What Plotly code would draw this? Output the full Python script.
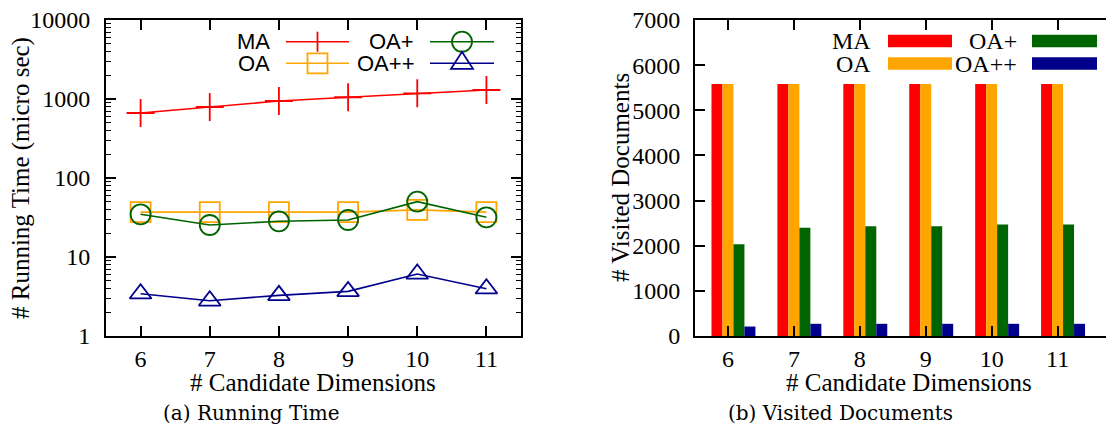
import plotly.graph_objects as go

# the page body has an 8px default margin; lay out in window pixels and compensate
OFF = 8
W, H = 1114 - OFF, 432 - OFF

# ---------------- data ----------------
dims = [6, 7, 8, 9, 10, 11]
tick_text_dims = ["6", "7", "8", "9", "10", "11"]

# (a) Running Time (micro sec), log scale
rt_ma = [665, 792, 944, 1052, 1180, 1300]
rt_oa = [37, 37, 37, 37, 39.5, 37]
rt_oap = [34.7, 25.4, 28.3, 29.4, 50.2, 31.8]
rt_oapp = [3.43, 2.79, 3.27, 3.67, 6.1, 3.97]
rt_tickvals = [1, 10, 100, 1000, 10000]
rt_ticktext = ["1", "10", "100", "1000", "10000"]

# (b) Visited Documents
vd_ma = [5580, 5580, 5580, 5580, 5580, 5580]
vd_oa = [5580, 5580, 5580, 5580, 5580, 5580]
vd_oap = [2030, 2400, 2430, 2430, 2470, 2470]
vd_oapp = [210, 270, 270, 270, 270, 270]
vd_tickvals = [0, 1000, 2000, 3000, 4000, 5000, 6000, 7000]

series_names = ["MA", "OA", "OA+", "OA++"]
colors = {"MA": "#ff0000", "OA": "#ffa500", "OA+": "#006400", "OA++": "#00008b"}


def px(x):
    return (x - OFF) / W


def py(y):
    return 1 - (y - OFF) / H


SERIF = "Liberation Serif"
SANS = "Liberation Sans"

fig = go.Figure()

# ---------------- left chart: lines ----------------
line_series = [
    ("MA", rt_ma, "cross-thin", 20),
    ("OA", rt_oa, "square-open", 20),
    ("OA+", rt_oap, "circle-open", 20),
    ("OA++", rt_oapp, "triangle-up-open", 19),
]
for name, vals, sym, size in line_series:
    c = colors[name]
    fig.add_trace(go.Scatter(
        x=dims, y=vals, mode="lines+markers", name=name,
        line=dict(color=c, width=1.6),
        marker=dict(symbol=sym, size=size, color=c, line=dict(color=c, width=1.8)),
        xaxis="x", yaxis="y", showlegend=False, cliponaxis=False,
    ))

# ---------------- right chart: bars ----------------
bar_series = [("MA", vd_ma, -0.25), ("OA", vd_oa, -1 / 12),
              ("OA+", vd_oap, 1 / 12), ("OA++", vd_oapp, 0.25)]
for name, vals, off in bar_series:
    fig.add_trace(go.Bar(
        x=dims, y=vals, name=name, offset=off, width=1 / 6,
        marker=dict(color=colors[name], line=dict(width=0)),
        xaxis="x2", yaxis="y2", showlegend=False,
    ))

ydom = [py(336), py(20)]
axis_common = dict(
    showline=True, linecolor="black", linewidth=2, showgrid=False, zeroline=False,
    ticks="inside", tickcolor="black", tickwidth=1.5, ticklen=10,
    tickfont=dict(family=SERIF, size=24, color="black"), automargin=False,
    ticklabeloverflow="allow",
)

fig.update_layout(
    width=W, height=H, margin=dict(l=0, r=0, t=0, b=0),
    paper_bgcolor="white", plot_bgcolor="white", barmode="overlay",
    showlegend=False,
    xaxis=dict(domain=[px(106), px(521)], range=[5.5, 11.5], anchor="y",
               tickvals=dims, ticktext=tick_text_dims, mirror="ticks",
               ticklabelstandoff=0, **axis_common),
    yaxis=dict(domain=ydom, type="log", range=[0, 4], anchor="x",
               tickvals=rt_tickvals, ticktext=rt_ticktext, mirror="ticks",
               ticklabelstandoff=9,
               minor=dict(ticks="inside", ticklen=5, tickwidth=1.3, tickcolor="black",
                          tickvals=[m * d for d in [1, 10, 100, 1000] for m in range(2, 10)],
                          showgrid=False),
               **axis_common),
    xaxis2=dict(domain=[px(695), 1.0], range=[5.5, 11.856], anchor="y2",
                tickvals=dims, ticktext=tick_text_dims, mirror="ticks",
                ticklabelstandoff=0, **axis_common),
    yaxis2=dict(domain=ydom, range=[0, 7000], anchor="x2",
                tickvals=vd_tickvals, mirror=False, ticklabelstandoff=8,
                **axis_common),
    yaxis3=dict(overlaying="y2", side="right", anchor="free", position=1.0,
                range=[0, 7000], tickvals=vd_tickvals, showticklabels=False,
                showline=False, showgrid=False, zeroline=False,
                ticks="inside", ticklen=3, tickcolor="black", tickwidth=1.5),
)

annotations = []
shapes = []


def text(x, y, s, size, family, xanchor="center", angle=0):
    annotations.append(dict(
        x=px(x), y=py(y), xref="paper", yref="paper", text=s, showarrow=False,
        xanchor=xanchor, yanchor="middle", textangle=angle,
        font=dict(family=family, size=size, color="black")))


# axis titles
text(21, 178, "# Running Time (micro sec)", 25, SERIF, angle=-90)
text(313, 382, "# Candidate Dimensions", 25, SERIF)
text(620, 178, "# Visited Documents", 25, SERIF, angle=-90)
text(909, 382, "# Candidate Dimensions", 25, SERIF)
# captions
text(251, 413, "(a) Running Time", 20, "DejaVu Serif")
text(840, 413, "(b) Visited Documents", 20, "DejaVu Serif")

# ---- left legend (text left, sample right) ----
leg_rows = {"MA": (272, 286, 349, 41.7), "OA": (272, 286, 349, 63.3),
            "OA+": (416, 430, 494, 41.7), "OA++": (416, 430, 494, 63.3)}
for name in series_names:
    tx, x0, x1, yy = leg_rows[name]
    c = colors[name]
    text(tx, yy, name, 22, SANS, xanchor="right")
    shapes.append(dict(type="line", xref="paper", yref="paper",
                       x0=px(x0), x1=px(x1), y0=py(yy), y1=py(yy),
                       line=dict(color=c, width=1.6)))
    cx = (x0 + x1) / 2
    if name == "MA":
        shapes.append(dict(type="line", xref="paper", yref="paper",
                           x0=px(cx), x1=px(cx), y0=py(yy - 10), y1=py(yy + 10),
                           line=dict(color=c, width=1.8)))
    elif name == "OA":
        shapes.append(dict(type="rect", xref="paper", yref="paper",
                           x0=px(cx - 10), x1=px(cx + 10), y0=py(yy - 10), y1=py(yy + 10),
                           line=dict(color=c, width=1.8)))
    elif name == "OA+":
        shapes.append(dict(type="circle", xref="paper", yref="paper",
                           x0=px(cx - 10), x1=px(cx + 10), y0=py(yy - 10), y1=py(yy + 10),
                           line=dict(color=c, width=1.8)))
    else:
        path = "M {} {} L {} {} L {} {} Z".format(
            px(cx - 11), py(yy + 5.5), px(cx + 11), py(yy + 5.5), px(cx), py(yy - 11.5))
        shapes.append(dict(type="path", xref="paper", yref="paper", path=path,
                           line=dict(color=c, width=1.8)))

# ---- right legend ----
bar_leg = {"MA": (873, 888, 952, 41), "OA": (873, 888, 952, 63.5),
           "OA+": (1019, 1032, 1097, 41), "OA++": (1019, 1032, 1097, 63.5)}
for name in series_names:
    tx, x0, x1, yy = bar_leg[name]
    text(tx, yy, name, 24, SERIF, xanchor="right")
    shapes.append(dict(type="rect", xref="paper", yref="paper",
                       x0=px(x0), x1=px(x1), y0=py(yy - 6.3), y1=py(yy + 6.3),
                       fillcolor=colors[name], line=dict(width=0)))

fig.update_layout(annotations=annotations, shapes=shapes)
fig.write_html("out.html")
